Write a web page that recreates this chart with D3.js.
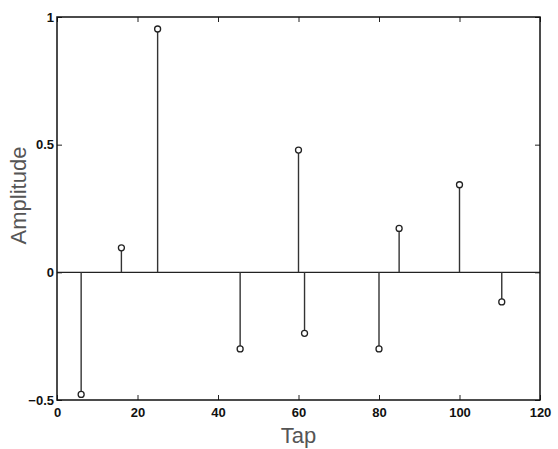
<!DOCTYPE html>
<html>
<head>
<meta charset="utf-8">
<script src="https://cdn.jsdelivr.net/npm/d3@7"></script>
<style>
  body { margin: 0; background: #fff; }
  svg { display: block; }
</style>
</head>
<body>
<script>
// Stem data
const taps = [6, 16, 25, 45.5, 60, 61.5, 80, 85, 100, 110.5];
const amplitudes = [-0.478, 0.096, 0.953, -0.30, 0.479, -0.239, -0.30, 0.172, 0.343, -0.116];
const xTicks = [0, 20, 40, 60, 80, 100, 120];
const yTicks = [-0.5, 0, 0.5, 1];

const data = taps.map((t, i) => ({ tap: t, amp: amplitudes[i] }));

const margin = { top: 17, right: 18, bottom: 49, left: 57 };
const width = 558 - margin.left - margin.right;
const height = 449 - margin.top - margin.bottom;

const svg = d3.select('body')
    .append('svg')
    .attr('width', 558)
    .attr('height', 449);

const g = svg.append('g')
    .attr('transform', `translate(${margin.left}, ${margin.top})`);

const x = d3.scaleLinear().domain([0, 120]).range([0, width]);
const y = d3.scaleLinear().domain([-0.5, 1]).range([height, 0]);

// inward ticks on all four sides
const fmt = d => d < 0 ? '\u2212' + Math.abs(d) : String(d);

const styleAxis = sel => {
    sel.select('.domain').remove();
    sel.selectAll('line').attr('stroke', '#222').attr('stroke-width', 1);
    sel.selectAll('text')
        .attr('fill', '#111')
        .style('font-family', '"Liberation Sans", Arial, sans-serif')
        .style('font-size', '13px')
        .style('font-weight', 'bold');
};

g.append('g')
    .attr('transform', `translate(0, ${height})`)
    .call(d3.axisBottom(x).tickValues(xTicks).tickFormat(fmt).tickSizeInner(-5).tickSizeOuter(0).tickPadding(8))
    .call(styleAxis);

g.append('g')
    .call(d3.axisTop(x).tickValues(xTicks).tickFormat('').tickSizeInner(-5).tickSizeOuter(0))
    .call(styleAxis);

g.append('g')
    .call(d3.axisLeft(y).tickValues(yTicks).tickFormat(fmt).tickSizeInner(-5).tickSizeOuter(0).tickPadding(3))
    .call(styleAxis);

g.append('g')
    .attr('transform', `translate(${width}, 0)`)
    .call(d3.axisRight(y).tickValues(yTicks).tickFormat('').tickSizeInner(-5).tickSizeOuter(0))
    .call(styleAxis);

// baseline at zero
g.append('line')
    .attr('x1', 0).attr('x2', width)
    .attr('y1', y(0)).attr('y2', y(0))
    .attr('stroke', '#222')
    .attr('stroke-width', 1.3);

// stems
g.selectAll('.stem')
    .data(data)
    .enter()
    .append('line')
    .attr('class', 'stem')
    .attr('x1', d => x(d.tap)).attr('x2', d => x(d.tap))
    .attr('y1', y(0)).attr('y2', d => y(d.amp))
    .attr('stroke', '#333')
    .attr('stroke-width', 1.4);

g.selectAll('.marker')
    .data(data)
    .enter()
    .append('circle')
    .attr('class', 'marker')
    .attr('cx', d => x(d.tap))
    .attr('cy', d => y(d.amp))
    .attr('r', 3)
    .attr('fill', '#fff')
    .attr('stroke', '#222')
    .attr('stroke-width', 1.3);

// frame
g.append('rect')
    .attr('width', width)
    .attr('height', height)
    .attr('fill', 'none')
    .attr('stroke', '#111')
    .attr('stroke-width', 1.5);

// axis labels
svg.append('text')
    .attr('x', margin.left + width / 2)
    .attr('y', 443)
    .attr('text-anchor', 'middle')
    .attr('fill', '#555')
    .style('font-family', '"Liberation Sans", Arial, sans-serif')
    .style('font-size', '22px')
    .text('Tap');

svg.append('text')
    .attr('transform', `translate(26, ${margin.top + height / 2 - 13}) rotate(-90)`)
    .attr('text-anchor', 'middle')
    .attr('fill', '#555')
    .style('font-family', '"Liberation Sans", Arial, sans-serif')
    .style('font-size', '22px')
    .text('Amplitude');
</script>
</body>
</html>
